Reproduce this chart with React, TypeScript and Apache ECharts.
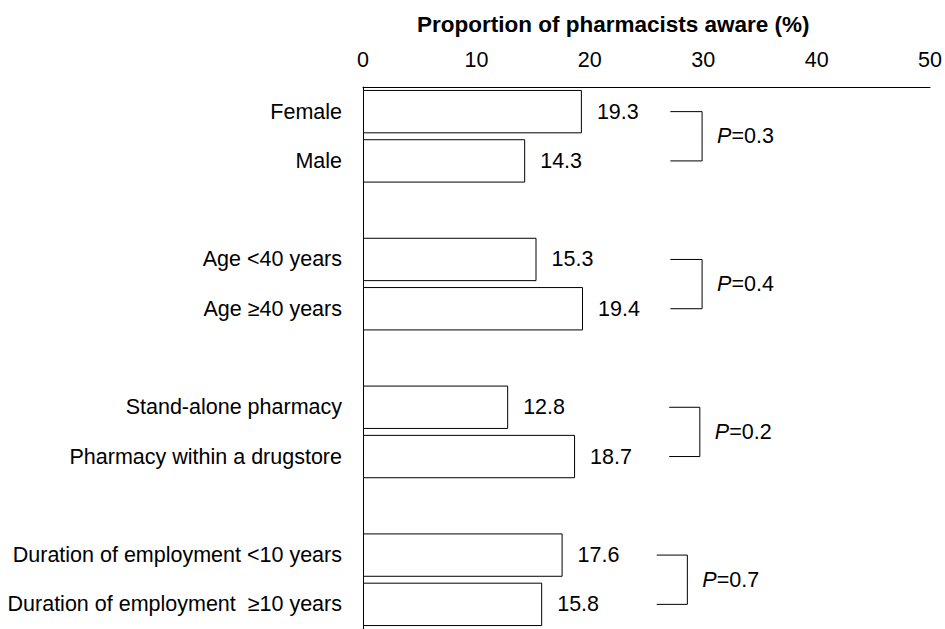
import React, { useEffect, useRef } from "react";
import * as echarts from "echarts";

// ---- data ----
const categories = [
  "Female",
  "Male",
  "Age <40 years",
  "Age \u226540 years",
  "Stand-alone pharmacy",
  "Pharmacy within a drugstore",
  "Duration of employment <10 years",
  "Duration of employment  \u226510 years",
];
const values = [19.3, 14.3, 15.3, 19.4, 12.8, 18.7, 17.6, 15.8];
const pValues = ["0.3", "0.4", "0.2", "0.7"];
const xTicks = [0, 10, 20, 30, 40, 50];
const axisTitle = "Proportion of pharmacists aware (%)";

// ---- layout (bracket x extents in axis units) ----
const bracketStart = [27.1, 27.1, 27.0, 25.9];
const bracketEnd = [29.9, 29.9, 29.7, 28.6];

const FONT = "'Liberation Sans', Arial, Helvetica, sans-serif";
const FS = 21.5;

export default function App() {
  const ref = useRef<HTMLDivElement>(null);

  useEffect(() => {
    if (!ref.current) return;
    const chart = echarts.init(ref.current, null, { renderer: "svg" });

    const axisCats: string[] = [];
    const barData: (number | string)[] = [];
    const rowIndex: number[] = [];
    categories.forEach((c, i) => {
      rowIndex.push(axisCats.length);
      axisCats.push(c);
      barData.push(values[i]);
      if (i % 2 === 1 && i < categories.length - 1) {
        axisCats.push(" ".repeat((i + 1) / 2));
        barData.push("-");
      }
    });

    const bracketData = pValues.map((p, g) => [
      bracketStart[g],
      rowIndex[g * 2],
      bracketEnd[g],
      rowIndex[g * 2 + 1],
    ]);

    const option: any = {
      animation: false,
      backgroundColor: "#ffffff",
      textStyle: { fontFamily: FONT },
      title: {
        text: axisTitle,
        left: 417,
        top: 13,
        padding: 0,
        textStyle: {
          fontFamily: FONT,
          fontSize: 22.5,
          fontWeight: "bold",
          color: "#000",
        },
      },
      grid: {
        left: 363,
        top: 87,
        width: 569,
        height: 551,
        containLabel: false,
      },
      xAxis: {
        type: "value",
        position: "top",
        min: 0,
        max: 50,
        interval: 10,
        splitLine: { show: false },
        axisTick: { show: false },
        axisLine: { show: true, lineStyle: { color: "#000", width: 1 } },
        axisLabel: {
          margin: 16,
          fontSize: FS,
          color: "#000",
          fontFamily: FONT,
          formatter: (v: number) => (xTicks.includes(v) ? String(v) : ""),
        },
      },
      yAxis: {
        type: "category",
        inverse: true,
        data: axisCats,
        axisTick: { show: false },
        axisLine: { show: true, lineStyle: { color: "#000", width: 1 } },
        axisLabel: {
          margin: 21,
          fontSize: FS,
          color: "#000",
          fontFamily: FONT,
        },
        splitLine: { show: false },
      },
      series: [
        {
          type: "bar",
          data: barData,
          barCategoryGap: "12%",
          itemStyle: { color: "#ffffff", borderColor: "#000", borderWidth: 1 },
          label: {
            show: true,
            position: "right",
            distance: 15,
            fontSize: FS,
            color: "#000",
            fontFamily: FONT,
          },
        },
        {
          type: "custom",
          data: bracketData,
          encode: { x: [0, 2], y: [1, 3] },
          renderItem: (params: any, api: any) => {
            const g = params.dataIndex;
            const p1 = api.coord([api.value(0), api.value(1)]);
            const p2 = api.coord([api.value(2), api.value(1)]);
            const p3 = api.coord([api.value(2), api.value(3)]);
            const p4 = api.coord([api.value(0), api.value(3)]);
            return {
              type: "group",
              children: [
                {
                  type: "polyline",
                  shape: { points: [p1, p2, p3, p4] },
                  style: { stroke: "#000", lineWidth: 1, fill: null },
                },
                {
                  type: "text",
                  x: p2[0] + 15,
                  y: (p2[1] + p3[1]) / 2,
                  style: {
                    text: "{i|P}{n|=" + pValues[g] + "}",
                    verticalAlign: "middle",
                    align: "left",
                    fill: "#000",
                    fontSize: FS,
                    fontFamily: FONT,
                    rich: {
                      i: { fontStyle: "italic", fontSize: FS, fontFamily: FONT, fill: "#000" },
                      n: { fontSize: FS, fontFamily: FONT, fill: "#000" },
                    },
                  },
                },
              ],
            };
          },
          z: 5,
        },
      ],
    };

    chart.setOption(option);
    return () => chart.dispose();
  }, []);

  return (
    <div
      ref={ref}
      style={{ position: "fixed", left: 0, top: 0, width: 945, height: 629 }}
    />
  );
}
